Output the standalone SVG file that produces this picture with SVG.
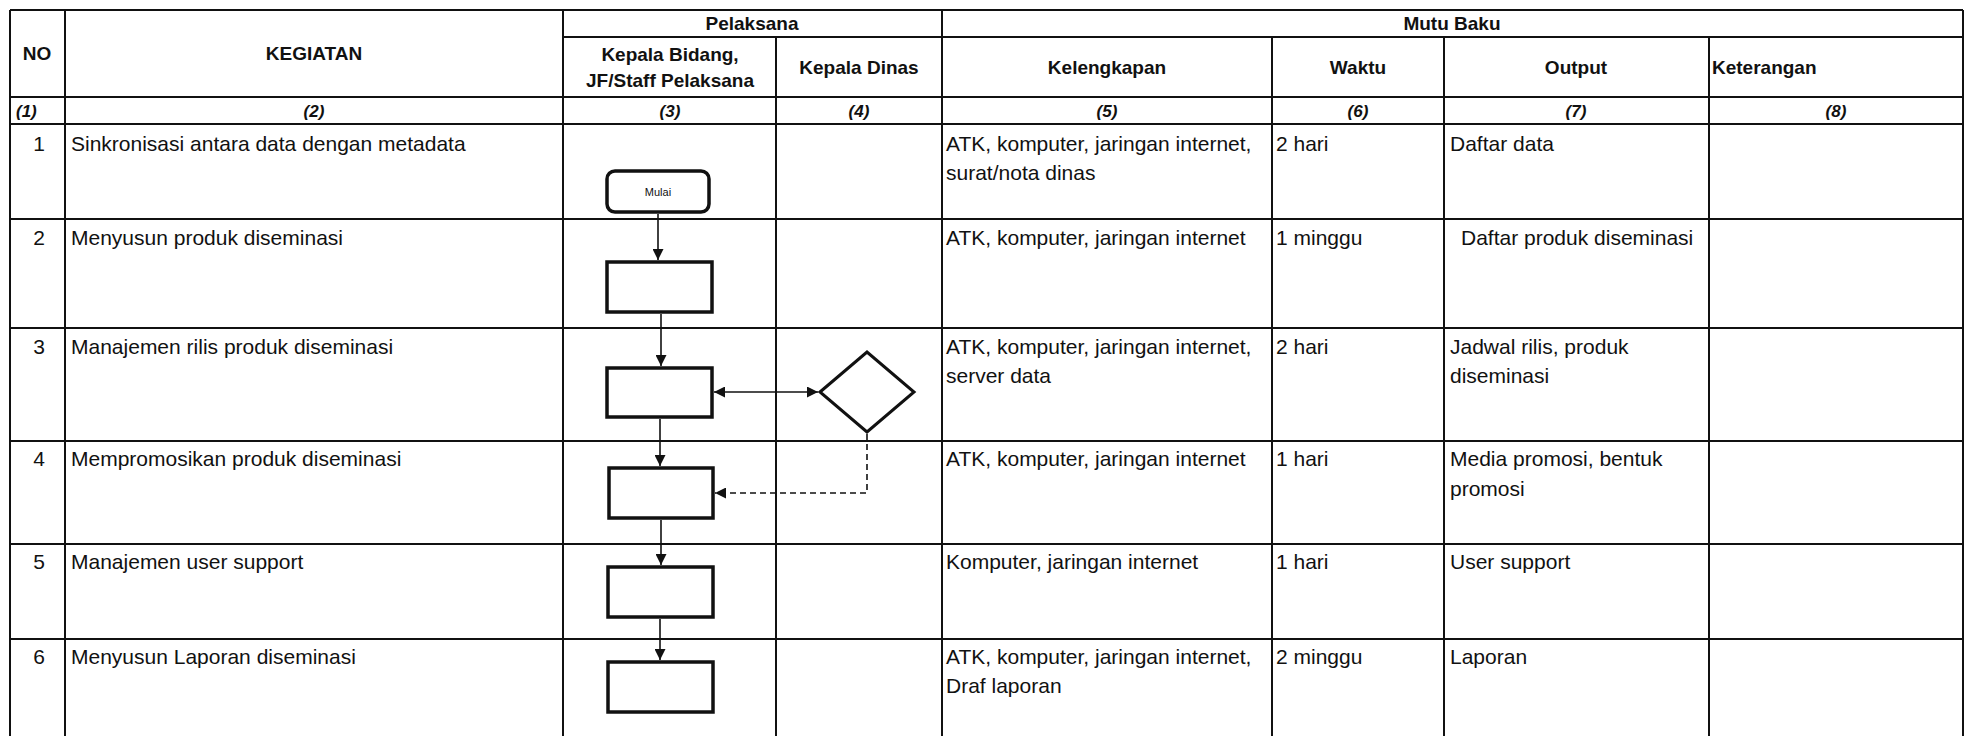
<svg xmlns="http://www.w3.org/2000/svg" width="1970" height="736" viewBox="0 0 1970 736">
<style>
.bg{fill:#ffffff}
.g{stroke:#111;stroke-width:2;fill:none}
.t{font-family:"Liberation Sans",Arial,sans-serif;font-size:21px;fill:#111}
.h{font-family:"Liberation Sans",Arial,sans-serif;font-size:19px;font-weight:bold;fill:#111}
.n{font-family:"Liberation Sans",Arial,sans-serif;font-size:17px;font-weight:bold;font-style:italic;fill:#111}
.c{text-anchor:middle}
.box{fill:#fff;stroke:#111;stroke-width:3.5}
.con{stroke:#111;stroke-width:1.6;fill:none}
.dash{stroke-dasharray:6 4}
.small{font-family:"Liberation Sans",Arial,sans-serif;font-size:11px;fill:#111;text-anchor:middle}
</style>
<defs>
<marker id="arr" viewBox="0 0 10 10" refX="10" refY="5" markerWidth="11" markerHeight="11" markerUnits="userSpaceOnUse" orient="auto-start-reverse">
<path d="M0,0 L10,5 L0,10 z" fill="#111"/>
</marker>
</defs>
<rect class="bg" x="0" y="0" width="1970" height="736"/>

<g id="table-grid" class="g">
<line x1="10" y1="10" x2="1963" y2="10"/>
<line x1="563" y1="37" x2="1963" y2="37"/>
<line x1="10" y1="97" x2="1963" y2="97"/>
<line x1="10" y1="124" x2="1963" y2="124"/>
<line x1="10" y1="219" x2="1963" y2="219"/>
<line x1="10" y1="328" x2="1963" y2="328"/>
<line x1="10" y1="441" x2="1963" y2="441"/>
<line x1="10" y1="544" x2="1963" y2="544"/>
<line x1="10" y1="639" x2="1963" y2="639"/>
<line x1="10" y1="10" x2="10" y2="736"/>
<line x1="65" y1="10" x2="65" y2="736"/>
<line x1="563" y1="10" x2="563" y2="736"/>
<line x1="776" y1="37" x2="776" y2="736"/>
<line x1="942" y1="10" x2="942" y2="736"/>
<line x1="1272" y1="37" x2="1272" y2="736"/>
<line x1="1444" y1="37" x2="1444" y2="736"/>
<line x1="1709" y1="37" x2="1709" y2="736"/>
<line x1="1963" y1="10" x2="1963" y2="736"/>
</g>

<g id="header">
<text class="h c" x="37" y="60">NO</text>
<text class="h c" x="314" y="60">KEGIATAN</text>
<text class="h c" x="752" y="30">Pelaksana</text>
<text class="h c" x="1452" y="30">Mutu Baku</text>
<text class="h c" x="670" y="61">Kepala Bidang,</text>
<text class="h c" x="670" y="87">JF/Staff Pelaksana</text>
<text class="h c" x="859" y="74">Kepala Dinas</text>
<text class="h c" x="1107" y="74">Kelengkapan</text>
<text class="h c" x="1358" y="74">Waktu</text>
<text class="h c" x="1576" y="74">Output</text>
<text class="h" x="1712" y="74">Keterangan</text>
<text class="n" x="16" y="117">(1)</text>
<text class="n c" x="314" y="117">(2)</text>
<text class="n c" x="670" y="117">(3)</text>
<text class="n c" x="859" y="117">(4)</text>
<text class="n c" x="1107" y="117">(5)</text>
<text class="n c" x="1358" y="117">(6)</text>
<text class="n c" x="1576" y="117">(7)</text>
<text class="n c" x="1836" y="117">(8)</text>
</g>

<g id="rows">
<text class="t c" x="39" y="151">1</text>
<text class="t" x="71" y="151">Sinkronisasi antara data dengan metadata</text>
<text class="t" x="946" y="151">ATK, komputer, jaringan internet,</text>
<text class="t" x="946" y="180">surat/nota dinas</text>
<text class="t" x="1276" y="151">2 hari</text>
<text class="t" x="1450" y="151">Daftar data</text>

<text class="t c" x="39" y="245">2</text>
<text class="t" x="71" y="245">Menyusun produk diseminasi</text>
<text class="t" x="946" y="245">ATK, komputer, jaringan internet</text>
<text class="t" x="1276" y="245">1 minggu</text>
<text class="t" x="1461" y="245">Daftar produk diseminasi</text>

<text class="t c" x="39" y="354">3</text>
<text class="t" x="71" y="354">Manajemen rilis produk diseminasi</text>
<text class="t" x="946" y="354">ATK, komputer, jaringan internet,</text>
<text class="t" x="946" y="383">server data</text>
<text class="t" x="1276" y="354">2 hari</text>
<text class="t" x="1450" y="354">Jadwal rilis, produk</text>
<text class="t" x="1450" y="383">diseminasi</text>

<text class="t c" x="39" y="466">4</text>
<text class="t" x="71" y="466">Mempromosikan produk diseminasi</text>
<text class="t" x="946" y="466">ATK, komputer, jaringan internet</text>
<text class="t" x="1276" y="466">1 hari</text>
<text class="t" x="1450" y="466">Media promosi, bentuk</text>
<text class="t" x="1450" y="496">promosi</text>

<text class="t c" x="39" y="569">5</text>
<text class="t" x="71" y="569">Manajemen user support</text>
<text class="t" x="946" y="569">Komputer, jaringan internet</text>
<text class="t" x="1276" y="569">1 hari</text>
<text class="t" x="1450" y="569">User support</text>

<text class="t c" x="39" y="664">6</text>
<text class="t" x="71" y="664">Menyusun Laporan diseminasi</text>
<text class="t" x="946" y="664">ATK, komputer, jaringan internet,</text>
<text class="t" x="946" y="693">Draf laporan</text>
<text class="t" x="1276" y="664">2 minggu</text>
<text class="t" x="1450" y="664">Laporan</text>
</g>

<g id="connectors">
<line class="con" x1="658" y1="214" x2="658" y2="260" marker-end="url(#arr)"/>
<line class="con" x1="661" y1="314" x2="661" y2="366" marker-end="url(#arr)"/>
<line class="con" x1="660" y1="419" x2="660" y2="466" marker-end="url(#arr)"/>
<line class="con" x1="661" y1="520" x2="661" y2="565" marker-end="url(#arr)"/>
<line class="con" x1="660" y1="619" x2="660" y2="660" marker-end="url(#arr)"/>
<line class="con" x1="714" y1="392" x2="818" y2="392" marker-start="url(#arr)" marker-end="url(#arr)"/>
<polyline class="con dash" points="867,434 867,493 715,493" marker-end="url(#arr)"/>
</g>

<g id="node-mulai">
<rect class="box" x="607" y="171" width="102" height="41" rx="8"/>
<text class="small" x="658" y="196">Mulai</text>
</g>
<g id="node-p2"><rect class="box" x="607" y="262" width="105" height="50"/></g>
<g id="node-p3"><rect class="box" x="607" y="368" width="105" height="49"/></g>
<g id="node-decision"><polygon class="box" points="820,392 867,352 914,392 867,432" style="stroke-width:3"/></g>
<g id="node-p4"><rect class="box" x="609" y="468" width="104" height="50"/></g>
<g id="node-p5"><rect class="box" x="608" y="567" width="105" height="50"/></g>
<g id="node-p6"><rect class="box" x="608" y="662" width="105" height="50"/></g>
</svg>
